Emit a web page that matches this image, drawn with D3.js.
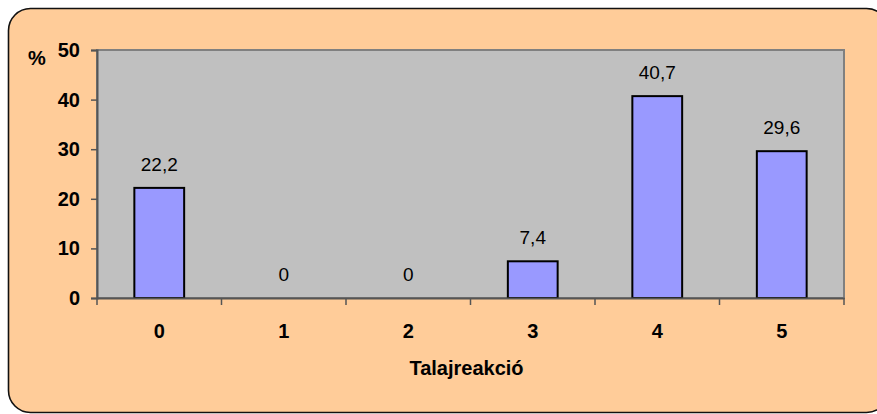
<!DOCTYPE html>
<html>
<head>
<meta charset="utf-8">
<script src="https://cdn.jsdelivr.net/npm/d3@7"></script>
<style>
  body { margin: 0; background: #fff; }
  text { font-family: Arial, "Liberation Sans", sans-serif; }
</style>
</head>
<body>
<div id="chart"></div>
<script>
// data
var categories = ["0", "1", "2", "3", "4", "5"];
var values = [22.2, 0, 0, 7.4, 40.7, 29.6];
var labels = ["22,2", "0", "0", "7,4", "40,7", "29,6"];
var yTicks = [0, 10, 20, 30, 40, 50];

var width = 877, height = 414;
var margin = {top: 50, right: 33, bottom: 116, left: 97};
var w = width - margin.left - margin.right,
    h = height - margin.top - margin.bottom;

var svg = d3.select("#chart")
  .append("svg")
    .attr("width", width)
    .attr("height", height);

// outer rounded box
svg.append("rect")
  .attr("x", 8.5).attr("y", 8.5)
  .attr("width", 880).attr("height", 404)
  .attr("rx", 22).attr("ry", 22)
  .attr("fill", "#FFCC99")
  .attr("stroke", "#111")
  .attr("stroke-width", 1.6);

var g = svg.append("g")
  .attr("transform", "translate(" + margin.left + "," + margin.top + ")");

// plot area
g.append("rect")
  .attr("width", w).attr("height", h)
  .attr("fill", "#C0C0C0")
  .attr("stroke", "#808080")
  .attr("stroke-width", 2);

var x = d3.scaleBand()
  .domain(categories)
  .range([0, w])
  .paddingInner(0.6)
  .paddingOuter(0.3);

var y = d3.scaleLinear()
  .domain([0, 50])
  .range([h, 0]);

// bars
g.selectAll(".bar")
  .data(values)
  .enter()
  .append("rect")
    .attr("class", "bar")
    .attr("x", function(d, i) { return x(categories[i]); })
    .attr("y", function(d) { return y(d); })
    .attr("width", x.bandwidth())
    .attr("height", function(d) { return h - y(d); })
    .attr("fill", "#9999FF")
    .attr("stroke", "#000")
    .attr("stroke-width", 2)
    .style("display", function(d) { return d > 0 ? null : "none"; });

// value labels
g.selectAll(".lbl")
  .data(values)
  .enter()
  .append("text")
    .attr("class", "lbl")
    .attr("x", function(d, i) { return x(categories[i]) + x.bandwidth() / 2; })
    .attr("y", function(d) { return y(d) - 17; })
    .attr("text-anchor", "middle")
    .style("font-size", "19px")
    .text(function(d, i) { return labels[i]; });

// y axis
var yAxis = g.append("g")
  .call(d3.axisLeft(y).tickValues(yTicks).tickSize(6).tickPadding(11));
yAxis.select(".domain").attr("stroke", "#555").attr("stroke-width", 2);
yAxis.selectAll(".tick line").attr("stroke", "#555").attr("stroke-width", 1.5);
yAxis.selectAll("text")
  .style("font-size", "20px").style("font-weight", "bold").attr("fill", "#000");

// x axis with ticks between categories
var xAxis = g.append("g")
  .attr("transform", "translate(0," + h + ")")
  .call(d3.axisBottom(x).tickSize(0).tickPadding(26));
xAxis.select(".domain").attr("stroke", "#555").attr("stroke-width", 2);
xAxis.selectAll("text")
  .style("font-size", "20px").style("font-weight", "bold").attr("fill", "#000");
xAxis.selectAll(".sep")
  .data(d3.range(categories.length + 1))
  .enter()
  .append("line")
    .attr("class", "sep")
    .attr("x1", function(i) { return i * w / categories.length; })
    .attr("x2", function(i) { return i * w / categories.length; })
    .attr("y1", 0).attr("y2", 7)
    .attr("stroke", "#555")
    .attr("stroke-width", 1.5);

// axis titles
svg.append("text")
  .attr("x", 37).attr("y", 65)
  .attr("text-anchor", "middle")
  .style("font-size", "20px").style("font-weight", "bold")
  .text("%");

svg.append("text")
  .attr("x", margin.left + w / 2 - 4).attr("y", 375)
  .attr("text-anchor", "middle")
  .style("font-size", "20px").style("font-weight", "bold")
  .text("Talajreakció");
</script>
</body>
</html>
